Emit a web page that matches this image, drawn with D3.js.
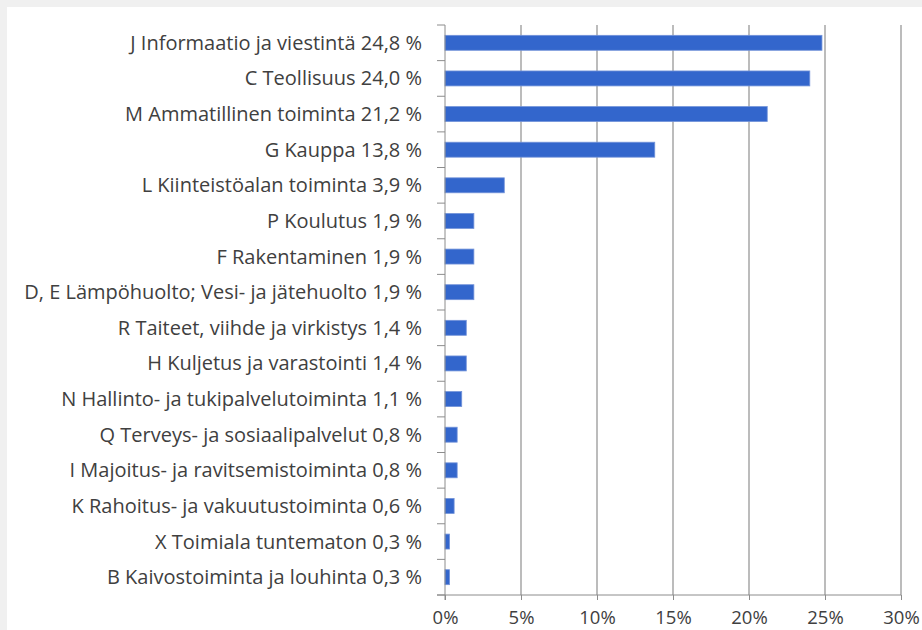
<!DOCTYPE html>
<html>
<head>
<meta charset="utf-8">
<script src="https://cdn.jsdelivr.net/npm/d3@7"></script>
<style>
  body { margin: 0; background: #f0f0f0; }
  svg { display: block; }
  text { font-family: "Open Sans", sans-serif; fill: #404040; }
</style>
</head>
<body>
<svg></svg>
<script>
var width = 922, height = 630;

var categories = [
  'J Informaatio ja viestintä',
  'C Teollisuus',
  'M Ammatillinen toiminta',
  'G Kauppa',
  'L Kiinteistöalan toiminta',
  'P Koulutus',
  'F Rakentaminen',
  'D, E Lämpöhuolto; Vesi- ja jätehuolto',
  'R Taiteet, viihde ja virkistys',
  'H Kuljetus ja varastointi',
  'N Hallinto- ja tukipalvelutoiminta',
  'Q Terveys- ja sosiaalipalvelut',
  'I Majoitus- ja ravitsemistoiminta',
  'K Rahoitus- ja vakuutustoiminta',
  'X Toimiala tuntematon',
  'B Kaivostoiminta ja louhinta'
];
var values = [24.8, 24.0, 21.2, 13.8, 3.9, 1.9, 1.9, 1.9, 1.4, 1.4, 1.1, 0.8, 0.8, 0.6, 0.3, 0.3];
var xTicks = [0, 5, 10, 15, 20, 25, 30];

var data = categories.map(function(c, i){ return {name: c, value: values[i]}; });

var svg = d3.select('svg').attr('width', width).attr('height', height);

// white chart panel
svg.append('rect')
  .attr('x', 7).attr('y', 7)
  .attr('width', width - 7).attr('height', height - 7)
  .attr('fill', '#fff');

var plotLeft = 445, plotRight = 901, plotTop = 25, plotBottom = 595;

var x = d3.scaleLinear().domain([0, 30]).range([plotLeft, plotRight]);
var y = d3.scaleBand().domain(categories).range([plotTop, plotBottom]).paddingInner(0.58).paddingOuter(0.29);

// gridlines
svg.append('g')
  .selectAll('line')
  .data(xTicks.slice(1))
  .enter().append('line')
    .attr('x1', function(d){ return x(d); })
    .attr('x2', function(d){ return x(d); })
    .attr('y1', plotTop).attr('y2', plotBottom)
    .attr('stroke', '#a6a6a6').attr('stroke-width', 1.5);

// bars
svg.append('g')
  .selectAll('rect')
  .data(data)
  .enter().append('rect')
    .attr('x', x(0))
    .attr('y', function(d){ return y(d.name); })
    .attr('width', function(d){ return x(d.value) - x(0); })
    .attr('height', y.bandwidth())
    .attr('fill', '#3366cc')
    .attr('stroke', '#7393d9').attr('stroke-width', 0.8);

// y axis with category ticks between bands
var yAxis = svg.append('g');
yAxis.append('line')
  .attr('x1', plotLeft).attr('x2', plotLeft).attr('y1', plotTop).attr('y2', plotBottom + 5)
  .attr('stroke', '#8c8c8c').attr('stroke-width', 1);
var step = y.step();
d3.range(categories.length + 1).forEach(function(i){
  yAxis.append('line')
    .attr('x1', plotLeft - 8).attr('x2', plotLeft)
    .attr('y1', plotTop + i * step).attr('y2', plotTop + i * step)
    .attr('stroke', '#8c8c8c');
});
yAxis.selectAll('text')
  .data(data)
  .enter().append('text')
    .attr('x', plotLeft - 23)
    .attr('y', function(d){ return y(d.name) + y.bandwidth() / 2; })
    .attr('dy', '0.35em')
    .attr('text-anchor', 'end')
    .style('font-size', '20px')
    .text(function(d){ return d.name + ' ' + d.value.toFixed(1).replace('.', ',') + ' %'; });

// x axis
var xAxis = d3.axisBottom(x).tickValues(xTicks).tickSize(5).tickFormat(function(d){ return d + '%'; });
var gx = svg.append('g').attr('transform', 'translate(0,' + plotBottom + ')').call(xAxis);
gx.select('.domain').attr('stroke', '#8c8c8c').attr('d', 'M' + (plotLeft - 8) + ',0H' + plotRight);
gx.selectAll('.tick line').attr('stroke', '#8c8c8c');
gx.selectAll('.tick text')
  .attr('y', 16)
  .style('font-size', '18.5px')
  .style('font-family', '"Open Sans", sans-serif')
  .attr('fill', '#404040');
</script>
</body>
</html>
